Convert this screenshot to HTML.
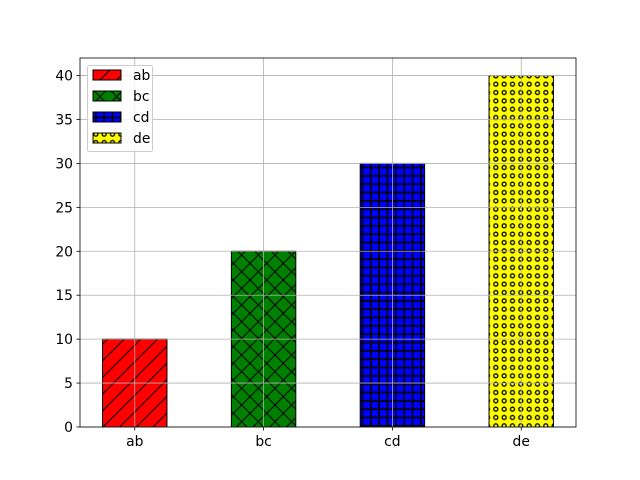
<!DOCTYPE html>
<html><head><meta charset="utf-8"><style>
html,body{margin:0;padding:0;background:#fff}
svg{display:block;font-family:"DejaVu Sans","Liberation Sans",sans-serif}
</style></head><body>
<svg id="chart" width="640" height="480" viewBox="0 0 640 480">
<defs>
<pattern id="h-ab" patternUnits="userSpaceOnUse" width="16.667" height="16.667" patternTransform="translate(0,480)">
<path d="M-2,18.667 L18.667,-2 M-10,10 L10,-10 M6.667,26.667 L26.667,6.667" stroke="#000" stroke-width="1"/>
</pattern>
<pattern id="h-bc" patternUnits="userSpaceOnUse" width="16.667" height="16.667" patternTransform="translate(0,480)">
<path d="M-2,18.667 L18.667,-2 M-10,10 L10,-10 M6.667,26.667 L26.667,6.667 M-2,-2 L18.667,18.667 M-10,6.667 L10,26.667 M6.667,-10 L26.667,10" stroke="#000" stroke-width="1"/>
</pattern>
<pattern id="h-cd" patternUnits="userSpaceOnUse" width="8.333" height="8.333" patternTransform="translate(0,480)">
<path d="M0,4.167 L8.333,4.167 M4.167,0 L4.167,8.333" stroke="#000" stroke-width="1.6"/>
</pattern>
<pattern id="h-de" patternUnits="userSpaceOnUse" width="8.333" height="8.333" patternTransform="translate(0,480)">
<circle cx="4.167" cy="4.167" r="2" fill="none" stroke="#000" stroke-width="1.3"/>
</pattern>
</defs>
<g id="plot"></g>
</svg>
<script>
const categories = ["ab","bc","cd","de"];
const values = [10,20,30,40];
const colors = ["red","green","blue","yellow"];
const hatches = ["h-ab","h-bc","h-cd","h-de"];
const yTicks = [0,5,10,15,20,25,30,35,40];

const L=80,R=576,T=58,B=427;
const xMin=-0.425,xMax=3.425,yMin=0,yMax=42;
const xs=v=>L+(v-xMin)/(xMax-xMin)*(R-L);
const ys=v=>B-(v-yMin)/(yMax-yMin)*(B-T);
const NS="http://www.w3.org/2000/svg";
const g=document.getElementById('plot');
function mk(tag,attrs,parent){const e=document.createElementNS(NS,tag);for(const k in attrs)e.setAttribute(k,attrs[k]);(parent||g).appendChild(e);return e;}

categories.forEach((c,i)=>{
  const x0=xs(i-0.25),x1=xs(i+0.25),y0=ys(values[i]),y1=ys(0);
  const bg=mk('g',{});
  
  
  mk('rect',{x:x0,y:y0,width:x1-x0,height:y1-y0,fill:colors[i]},bg);
  mk('rect',{x:x0,y:y0,width:x1-x0,height:y1-y0,fill:'url(#'+hatches[i]+')',stroke:'#000','stroke-width':1},bg);
});
const grid=mk('g',{stroke:'#b0b0b0','stroke-width':0.8});


yTicks.forEach(t=>mk('line',{x1:L,x2:R,y1:ys(t),y2:ys(t)},grid));
categories.forEach((c,i)=>mk('line',{x1:xs(i),x2:xs(i),y1:T,y2:B},grid));
const frame=mk('rect',{x:L,y:T,width:R-L,height:B-T,fill:'none',stroke:'#000','stroke-width':0.8});


yTicks.forEach(t=>{
  const y=ys(t);
  mk('line',{x1:L-3.5,x2:L,y1:y,y2:y,stroke:'#000','stroke-width':0.8});
  const tx=mk('text',{x:L-7,y:y+5,'text-anchor':'end','font-size':13.9});
  tx.textContent=t;
  
  
});
categories.forEach((c,i)=>{
  const x=xs(i);
  mk('line',{x1:x,x2:x,y1:B,y2:B+3.5,stroke:'#000','stroke-width':0.8});
  const tx=mk('text',{x:x,y:B+19,'text-anchor':'middle','font-size':13.9});
  tx.textContent=c;
  
  
});
const lg=mk('g',{});


mk('rect',{x:87.5,y:65.5,width:65,height:86,rx:2,fill:'#fff','fill-opacity':0.8,stroke:'#ccc','stroke-width':1},lg);
categories.forEach((c,i)=>{
  const y=70+i*21;
  const e=mk('g',{},lg);
  
  
  mk('rect',{x:93,y:y,width:28,height:10,fill:colors[i]},e);
  mk('rect',{x:93,y:y,width:28,height:10,fill:'url(#'+hatches[i]+')',stroke:'#000','stroke-width':1},e);
  const tx=mk('text',{x:133,y:y+10,'font-size':13.9},e);
  tx.textContent=c;
});
</script>
</body></html>
